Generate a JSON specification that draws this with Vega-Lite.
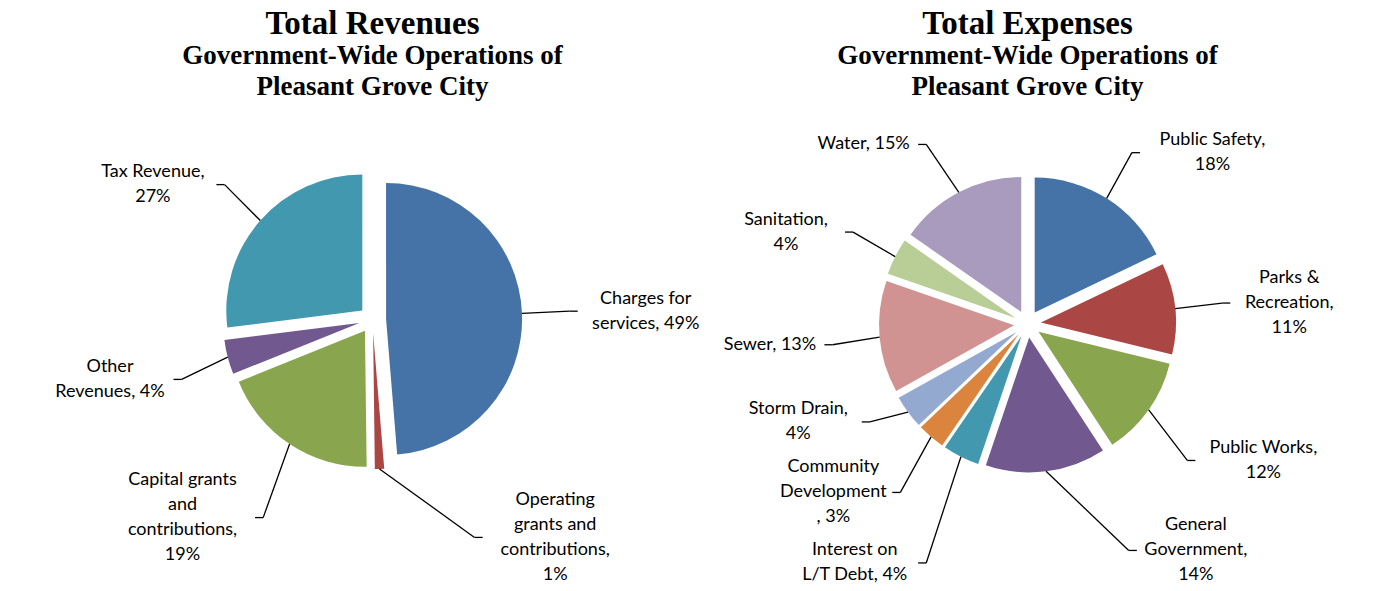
{
  "$schema": "https://vega.github.io/schema/vega-lite/v6.json",
  "background": "white",
  "padding": {"left": 0, "top": 8, "right": 0, "bottom": 0},
  "spacing": 0,
  "bounds": "flush",
  "resolve": {"scale": {"color": "independent", "theta": "independent"}},
  "config": {
    "view": {"stroke": null},
    "title": {
      "font": "Liberation Serif", "fontSize": 33, "fontWeight": "bold", "color": "black",
      "subtitleFont": "Liberation Serif", "subtitleFontSize": 27, "subtitleFontWeight": "bold",
      "subtitleColor": "black", "subtitleLineHeight": 31, "subtitlePadding": 2,
      "anchor": "middle", "offset": 4
    },
    "text": {"font": "Lato", "fontSize": 18, "lineHeight": 25, "color": "black"}
  },
  "data": {"values": [
    {"chart": "Revenues", "category": "Charges for services", "value": 48.7, "label": "Charges for\nservices, 49%"},
    {"chart": "Revenues", "category": "Operating grants and contributions", "value": 1.1, "label": "Operating\ngrants and\ncontributions,\n1%"},
    {"chart": "Revenues", "category": "Capital grants and contributions", "value": 19.1, "label": "Capital grants\nand\ncontributions,\n19%"},
    {"chart": "Revenues", "category": "Other Revenues", "value": 4.1, "label": "Other\nRevenues, 4%"},
    {"chart": "Revenues", "category": "Tax Revenue", "value": 27.0, "label": "Tax Revenue,\n27%"},
    {"chart": "Expenses", "category": "Public Safety", "value": 17.9, "label": "Public Safety,\n18%"},
    {"chart": "Expenses", "category": "Parks & Recreation", "value": 10.9, "label": "Parks &\nRecreation,\n11%"},
    {"chart": "Expenses", "category": "Public Works", "value": 12.0, "label": "Public Works,\n12%"},
    {"chart": "Expenses", "category": "General Government", "value": 14.4, "label": "General\nGovernment,\n14%"},
    {"chart": "Expenses", "category": "Interest on L/T Debt", "value": 4.4, "label": "Interest on\nL/T Debt, 4%"},
    {"chart": "Expenses", "category": "Community Development", "value": 3.3, "label": "Community\nDevelopment\n, 3%"},
    {"chart": "Expenses", "category": "Storm Drain", "value": 4.0, "label": "Storm Drain,\n4%"},
    {"chart": "Expenses", "category": "Sewer", "value": 13.4, "label": "Sewer, 13%"},
    {"chart": "Expenses", "category": "Sanitation", "value": 4.4, "label": "Sanitation,\n4%"},
    {"chart": "Expenses", "category": "Water", "value": 15.3, "label": "Water, 15%"}
  ]},
  "hconcat": [
    {
      "width": 745, "height": 484,
      "title": {"text": "Total Revenues", "subtitle": ["Government-Wide Operations of", "Pleasant Grove City"]},
      "transform": [
        {"filter": "datum.chart === 'Revenues'"},
        {"joinaggregate": [{"op": "sum", "field": "value", "as": "total"}]},
        {"window": [{"op": "sum", "field": "value", "as": "cum"}], "frame": [null, 0]},
        {"calculate": "(datum.cum - datum.value) / datum.total", "as": "f0"},
        {"calculate": "datum.cum / datum.total", "as": "f1"},
        {"calculate": "PI * (datum.f0 + datum.f1)", "as": "am"},
        {"calculate": "sin(datum.am)", "as": "sx"},
        {"calculate": "cos(datum.am)", "as": "sy"},
        {"calculate": "datum.sx >= 0 ? 1 : -1", "as": "side"},
        {"calculate": "0.1 * datum.sx", "as": "cx"},
        {"calculate": "0.1 * datum.sy", "as": "cy"},
        {"calculate": "1.1 * datum.sx", "as": "ex"},
        {"calculate": "1.1 * datum.sy", "as": "ey"},
        {"calculate": "datum.side * max(1.45 * abs(datum.sx), 0.75)", "as": "ax"},
        {"calculate": "datum.sy * (datum.sy >= 0 ? 1.5 : 1.75)", "as": "ay0"},
        {"calculate": "length(split(datum.label, '\\n'))", "as": "n"},
        {"calculate": "max(length(split(datum.label, '\\n')[0]), length(split(datum.label, '\\n')[1] || ''), length(split(datum.label, '\\n')[2] || ''), length(split(datum.label, '\\n')[3] || ''))", "as": "w"},
        {"calculate": "datum.n * 0.18382", "as": "h"},
        {"window": [{"op": "row_number", "as": "j"}, {"op": "sum", "field": "h", "as": "S"}], "groupby": ["side"], "sort": [{"field": "ay0", "order": "descending"}], "frame": [null, 0]},
        {"calculate": "datum.S - datum.h / 2 + 0.05882 * datum.j", "as": "G"},
        {"calculate": "datum.ay0 + datum.G", "as": "z"},
        {"window": [{"op": "min", "field": "z", "as": "mz"}], "groupby": ["side"], "sort": [{"field": "ay0", "order": "descending"}], "frame": [null, 0]},
        {"calculate": "datum.S + 0.05882 * datum.j", "as": "q"},
        {"joinaggregate": [{"op": "max", "field": "q", "as": "T"}], "groupby": ["side"]},
        {"calculate": "max(datum.mz - datum.G, -1.97 + datum.T - datum.G)", "as": "ay"},
        {"calculate": "datum.ay + (datum.n - 1) * 0.18382 / 2", "as": "ty"},
        {"calculate": "datum.ax + 0.06 * datum.side", "as": "bx"},
        {"calculate": "datum.ax + datum.side * (0.13 + datum.w * 4.5 / 136)", "as": "tx"}
      ],
      "layer": [
        {
          "mark": {"type": "arc", "outerRadius": 136, "innerRadius": 0},
          "encoding": {
            "x": {"field": "cx", "type": "quantitative", "scale": {"domain": [-2.739, 2.739], "nice": false, "zero": false}, "axis": null},
            "y": {"field": "cy", "type": "quantitative", "scale": {"domain": [-1.9743, 1.5847], "nice": false, "zero": false}, "axis": null},
            "theta": {"field": "f0", "type": "quantitative", "stack": null, "scale": {"domain": [0, 1]}},
            "theta2": {"field": "f1"},
            "color": {"field": "category", "type": "nominal", "legend": null,
              "scale": {"domain": ["Charges for services", "Operating grants and contributions", "Capital grants and contributions", "Other Revenues", "Tax Revenue"],
                        "range": ["#4572A7", "#AA4643", "#89A54E", "#71588F", "#4198AF"]}}
          }
        },
        {
          "mark": {"type": "rule", "color": "black", "strokeWidth": 1.3},
          "encoding": {
            "x": {"field": "ex", "type": "quantitative", "scale": {"domain": [-2.739, 2.739], "nice": false, "zero": false}, "axis": null},
            "y": {"field": "ey", "type": "quantitative", "scale": {"domain": [-1.9743, 1.5847], "nice": false, "zero": false}, "axis": null},
            "x2": {"field": "ax"},
            "y2": {"field": "ay"}
          }
        },
        {
          "mark": {"type": "rule", "color": "black", "strokeWidth": 1.3},
          "encoding": {
            "x": {"field": "ax", "type": "quantitative", "scale": {"domain": [-2.739, 2.739], "nice": false, "zero": false}, "axis": null},
            "y": {"field": "ay", "type": "quantitative", "scale": {"domain": [-1.9743, 1.5847], "nice": false, "zero": false}, "axis": null},
            "x2": {"field": "bx"},
            "y2": {"field": "ay"}
          }
        },
        {
          "mark": {"type": "text", "lineBreak": "\n", "baseline": "middle", "align": "center"},
          "encoding": {
            "x": {"field": "tx", "type": "quantitative", "scale": {"domain": [-2.739, 2.739], "nice": false, "zero": false}, "axis": null},
            "y": {"field": "ty", "type": "quantitative", "scale": {"domain": [-1.9743, 1.5847], "nice": false, "zero": false}, "axis": null},
            "text": {"field": "label"}
          }
        }
      ]
    },
    {
      "width": 565, "height": 484,
      "title": {"text": "Total Expenses", "subtitle": ["Government-Wide Operations of", "Pleasant Grove City"]},
      "transform": [
        {"filter": "datum.chart === 'Expenses'"},
        {"joinaggregate": [{"op": "sum", "field": "value", "as": "total"}]},
        {"window": [{"op": "sum", "field": "value", "as": "cum"}], "frame": [null, 0]},
        {"calculate": "(datum.cum - datum.value) / datum.total", "as": "f0"},
        {"calculate": "datum.cum / datum.total", "as": "f1"},
        {"calculate": "PI * (datum.f0 + datum.f1)", "as": "am"},
        {"calculate": "sin(datum.am)", "as": "sx"},
        {"calculate": "cos(datum.am)", "as": "sy"},
        {"calculate": "datum.sx >= 0 ? 1 : -1", "as": "side"},
        {"calculate": "0.1 * datum.sx", "as": "cx"},
        {"calculate": "0.1 * datum.sy", "as": "cy"},
        {"calculate": "1.1 * datum.sx", "as": "ex"},
        {"calculate": "1.1 * datum.sy", "as": "ey"},
        {"calculate": "datum.side * max(1.45 * abs(datum.sx), 0.75)", "as": "ax"},
        {"calculate": "datum.sy * (datum.sy >= 0 ? 1.5 : 1.75)", "as": "ay0"},
        {"calculate": "length(split(datum.label, '\\n'))", "as": "n"},
        {"calculate": "max(length(split(datum.label, '\\n')[0]), length(split(datum.label, '\\n')[1] || ''), length(split(datum.label, '\\n')[2] || ''), length(split(datum.label, '\\n')[3] || ''))", "as": "w"},
        {"calculate": "datum.n * 0.18519", "as": "h"},
        {"window": [{"op": "row_number", "as": "j"}, {"op": "sum", "field": "h", "as": "S"}], "groupby": ["side"], "sort": [{"field": "ay0", "order": "descending"}], "frame": [null, 0]},
        {"calculate": "datum.S - datum.h / 2 + 0.05926 * datum.j", "as": "G"},
        {"calculate": "datum.ay0 + datum.G", "as": "z"},
        {"window": [{"op": "min", "field": "z", "as": "mz"}], "groupby": ["side"], "sort": [{"field": "ay0", "order": "descending"}], "frame": [null, 0]},
        {"calculate": "datum.S + 0.05926 * datum.j", "as": "q"},
        {"joinaggregate": [{"op": "max", "field": "q", "as": "T"}], "groupby": ["side"]},
        {"calculate": "max(datum.mz - datum.G, -1.955 + datum.T - datum.G)", "as": "ay"},
        {"calculate": "datum.ay + (datum.n - 1) * 0.18519 / 2", "as": "ty"},
        {"calculate": "datum.ax + 0.06 * datum.side", "as": "bx"},
        {"calculate": "datum.ax + datum.side * (0.13 + datum.w * 4.5 / 135)", "as": "tx"}
      ],
      "layer": [
        {
          "mark": {"type": "arc", "outerRadius": 135, "innerRadius": 0},
          "encoding": {
            "x": {"field": "cx", "type": "quantitative", "scale": {"domain": [-2.0926, 2.0926], "nice": false, "zero": false}, "axis": null},
            "y": {"field": "cy", "type": "quantitative", "scale": {"domain": [-1.9554, 1.6296], "nice": false, "zero": false}, "axis": null},
            "theta": {"field": "f0", "type": "quantitative", "stack": null, "scale": {"domain": [0, 1]}},
            "theta2": {"field": "f1"},
            "color": {"field": "category", "type": "nominal", "legend": null,
              "scale": {"domain": ["Public Safety", "Parks & Recreation", "Public Works", "General Government", "Interest on L/T Debt", "Community Development", "Storm Drain", "Sewer", "Sanitation", "Water"],
                        "range": ["#4572A7", "#AA4643", "#89A54E", "#71588F", "#4198AF", "#DB843D", "#93A9CF", "#D19392", "#B9CD96", "#A99BBD"]}}
          }
        },
        {
          "mark": {"type": "rule", "color": "black", "strokeWidth": 1.3},
          "encoding": {
            "x": {"field": "ex", "type": "quantitative", "scale": {"domain": [-2.0926, 2.0926], "nice": false, "zero": false}, "axis": null},
            "y": {"field": "ey", "type": "quantitative", "scale": {"domain": [-1.9554, 1.6296], "nice": false, "zero": false}, "axis": null},
            "x2": {"field": "ax"},
            "y2": {"field": "ay"}
          }
        },
        {
          "mark": {"type": "rule", "color": "black", "strokeWidth": 1.3},
          "encoding": {
            "x": {"field": "ax", "type": "quantitative", "scale": {"domain": [-2.0926, 2.0926], "nice": false, "zero": false}, "axis": null},
            "y": {"field": "ay", "type": "quantitative", "scale": {"domain": [-1.9554, 1.6296], "nice": false, "zero": false}, "axis": null},
            "x2": {"field": "bx"},
            "y2": {"field": "ay"}
          }
        },
        {
          "mark": {"type": "text", "lineBreak": "\n", "baseline": "middle", "align": "center"},
          "encoding": {
            "x": {"field": "tx", "type": "quantitative", "scale": {"domain": [-2.0926, 2.0926], "nice": false, "zero": false}, "axis": null},
            "y": {"field": "ty", "type": "quantitative", "scale": {"domain": [-1.9554, 1.6296], "nice": false, "zero": false}, "axis": null},
            "text": {"field": "label"}
          }
        }
      ]
    }
  ]
}
